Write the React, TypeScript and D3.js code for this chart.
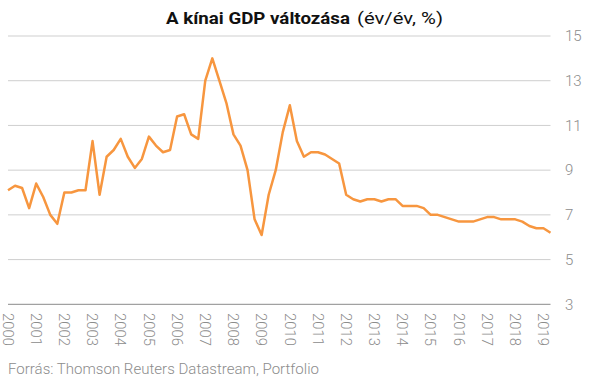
import React from "react";
import * as d3 from "d3";

const years: number[] = d3.range(2000, 2020);
const yTicks: number[] = [3, 5, 7, 9, 11, 13, 15];
// Quarterly y/y GDP growth, 2000Q1 .. 2019Q2
const gdp: number[] = [
  8.1, 8.3, 8.2, 7.3,
  8.4, 7.8, 7.0, 6.6,
  8.0, 8.0, 8.1, 8.1,
  10.3, 7.9, 9.6, 9.9,
  10.4, 9.6, 9.1, 9.5,
  10.5, 10.1, 9.8, 9.9,
  11.4, 11.5, 10.6, 10.4,
  13.0, 14.0, 13.0, 12.0,
  10.6, 10.1, 9.0, 6.8,
  6.1, 7.9, 9.0, 10.7,
  11.9, 10.3, 9.6, 9.8,
  9.8, 9.7, 9.5, 9.3,
  7.9, 7.7, 7.6, 7.7,
  7.7, 7.6, 7.7, 7.7,
  7.4, 7.4, 7.4, 7.3,
  7.0, 7.0, 6.9, 6.8,
  6.7, 6.7, 6.7, 6.8,
  6.9, 6.9, 6.8, 6.8,
  6.8, 6.7, 6.5, 6.4,
  6.4, 6.2,
];

const W = 605;
const H = 381;

export default function App() {
  const x = d3.scaleLinear().domain([0, gdp.length - 1]).range([8, 550.5]);
  const y = d3.scaleLinear().domain([3, 15]).range([304.3, 36]);
  const line = d3
    .line<number>()
    .x((_, i) => x(i))
    .y((d) => y(d));
  const font = "Roboto, 'Noto Sans', sans-serif";
  return (
    <svg
      width={W}
      height={H}
      style={{ position: "absolute", left: 0, top: 0, background: "#fff" }}
    >
      <text
        x={166}
        y={24}
        fontFamily={font}
        fontWeight={700}
        fontSize={17}
        fill="#111"
        textLength={184}
        lengthAdjust="spacingAndGlyphs"
      >
        A kínai GDP változása
      </text>
      <text
        x={357}
        y={24}
        fontFamily={font}
        fontWeight={400}
        fontSize={17}
        fill="#111"
        textLength={86}
        lengthAdjust="spacingAndGlyphs"
      >
        (év/év, %)
      </text>
      {yTicks.map((t) => (
        <g key={t}>
          <line
            x1={8}
            x2={550.5}
            y1={y(t)}
            y2={y(t)}
            stroke={t === 3 ? "#8a8a8a" : "#cfcfcf"}
            strokeWidth={1}
          />
          <text
            x={565}
            y={y(t)}
            dy="0.35em"
            fontFamily={font}
            fontWeight={300}
            fontSize={15}
            fill="#8c8c8c"
          >
            {t}
          </text>
        </g>
      ))}
      {years.map((yr, k) => {
        const px = x(k * 4);
        return (
          <text
            key={yr}
            transform={`translate(${px},313) rotate(90)`}
            dy="0.35em"
            fontFamily={font}
            fontWeight={300}
            fontSize={15}
            fill="#8c8c8c"
            textLength={33}
            lengthAdjust="spacingAndGlyphs"
          >
            {yr}
          </text>
        );
      })}
      <path
        d={line(gdp) || ""}
        fill="none"
        stroke="#f7963f"
        strokeWidth={2.5}
        strokeLinejoin="round"
      />
      <text
        x={8}
        y={374}
        fontFamily={font}
        fontWeight={300}
        fontSize={15}
        fill="#8c8c8c"
        textLength={311}
        lengthAdjust="spacingAndGlyphs"
      >
        Forrás: Thomson Reuters Datastream, Portfolio
      </text>
    </svg>
  );
}
